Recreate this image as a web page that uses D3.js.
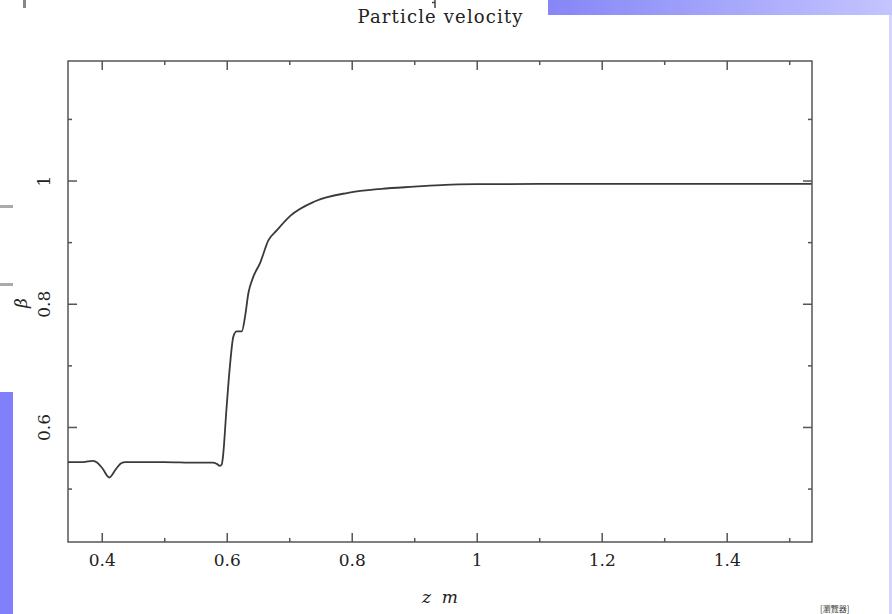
<!DOCTYPE html>
<html>
<head>
<meta charset="utf-8">
<script src="https://cdn.jsdelivr.net/npm/d3@7"></script>
<style>
  body { margin: 0; background: #fff; }
  svg { display: block; }
  .tick text { font-family: "DejaVu Serif", serif; font-size: 17px; fill: #222; }
</style>
</head>
<body>
<script>
// data
const zValues = [0.346, 0.37, 0.386, 0.393, 0.401, 0.412, 0.423, 0.431, 0.438, 0.46, 0.5, 0.55,
    0.578, 0.584, 0.589, 0.592, 0.594, 0.5995, 0.605, 0.6107, 0.616, 0.624, 0.6293, 0.6346,
    0.6426, 0.6533, 0.6666, 0.68, 0.7021, 0.7405, 0.794, 0.8474, 0.9, 0.95, 1.0, 1.1, 1.3, 1.536];
const betaValues = [0.543, 0.543, 0.545, 0.542, 0.533, 0.518, 0.532, 0.541, 0.543, 0.543, 0.543, 0.542,
    0.542, 0.540, 0.537, 0.539, 0.552, 0.628, 0.698, 0.747, 0.755, 0.755, 0.779, 0.817,
    0.844, 0.866, 0.903, 0.919, 0.943, 0.966, 0.980, 0.9865, 0.990, 0.993, 0.994, 0.9945, 0.9945, 0.9945];
const xMajorTicks = [0.4, 0.6, 0.8, 1.0, 1.2, 1.4];
const xMinorTicks = [0.5, 0.7, 0.9, 1.1, 1.3, 1.5];
const yMajorTicks = [0.6, 0.8, 1.0];
const yMinorTicks = [0.5, 0.7, 0.9, 1.1];
const title = "Particle velocity";

const width = 892;
const height = 614;
const frame = { left: 68, right: 812, top: 61, bottom: 542 };
const axisColor = "#555";

const svg = d3.select("body").append("svg")
    .attr("width", width)
    .attr("height", height);

// page decorations around the chart
const defs = svg.append("defs");
const grad = defs.append("linearGradient").attr("id", "topbar");
grad.append("stop").attr("offset", "0%").attr("stop-color", "#8686f6");
grad.append("stop").attr("offset", "100%").attr("stop-color", "#c4c4ff");

svg.append("rect").attr("x", 548).attr("y", 0).attr("width", 344).attr("height", 15)
    .attr("fill", "url(#topbar)");
svg.append("rect").attr("x", 889).attr("y", 15).attr("width", 3).attr("height", 599)
    .attr("fill", "#d4d4ff");
svg.append("rect").attr("x", 0).attr("y", 392).attr("width", 13).attr("height", 222)
    .attr("fill", "#8080fa");
svg.append("rect").attr("x", 23).attr("y", 0).attr("width", 3).attr("height", 8).attr("fill", "#888");
svg.append("rect").attr("x", 0).attr("y", 205).attr("width", 13).attr("height", 3).attr("fill", "#aaa");
svg.append("rect").attr("x", 0).attr("y", 283).attr("width", 13).attr("height", 3).attr("fill", "#aaa");
svg.append("path").attr("d", "M432,2.5 L435,2.5 M435,0 L435,8")
    .attr("stroke", "#444").attr("stroke-width", 1.5).attr("fill", "none");
svg.append("text").attr("x", 820).attr("y", 612)
    .style("font-family", "'Noto Sans CJK TC', sans-serif").style("font-size", "8px")
    .attr("fill", "#333").text("[瀏覽器]");

// scales
const x = d3.scaleLinear().domain([0.346, 1.5365]).range([frame.left, frame.right]);
const y = d3.scaleLinear().domain([0.4133, 1.194]).range([frame.bottom, frame.top]);

// frame
svg.append("rect")
    .attr("x", frame.left).attr("y", frame.top)
    .attr("width", frame.right - frame.left).attr("height", frame.bottom - frame.top)
    .attr("fill", "none").attr("stroke", axisColor).attr("stroke-width", 1.5);

function styleAxis(g) {
    g.select(".domain").remove();
    g.selectAll(".tick line").attr("stroke", axisColor).attr("stroke-width", 1.5);
}

// bottom axis
svg.append("g").attr("transform", `translate(0,${frame.bottom})`)
    .call(d3.axisBottom(x).tickValues(xMajorTicks).tickSize(-9).tickPadding(12)
        .tickFormat(d => d3.format("~g")(d)))
    .call(styleAxis);
svg.append("g").attr("transform", `translate(0,${frame.bottom})`)
    .call(d3.axisBottom(x).tickValues(xMinorTicks).tickSize(-4).tickFormat(""))
    .call(styleAxis);

// top axis
svg.append("g").attr("transform", `translate(0,${frame.top})`)
    .call(d3.axisTop(x).tickValues(xMajorTicks).tickSize(-9).tickFormat(""))
    .call(styleAxis);
svg.append("g").attr("transform", `translate(0,${frame.top})`)
    .call(d3.axisTop(x).tickValues(xMinorTicks).tickSize(-4).tickFormat(""))
    .call(styleAxis);

// left axis, labels rotated
const leftAxis = svg.append("g").attr("transform", `translate(${frame.left},0)`)
    .call(d3.axisLeft(y).tickValues(yMajorTicks).tickSize(-9)
        .tickFormat(d => d3.format("~g")(d)))
    .call(styleAxis);
leftAxis.selectAll(".tick text")
    .attr("transform", "rotate(-90)")
    .attr("x", 0).attr("y", -18).attr("dy", 0)
    .attr("text-anchor", "middle");
svg.append("g").attr("transform", `translate(${frame.left},0)`)
    .call(d3.axisLeft(y).tickValues(yMinorTicks).tickSize(-4).tickFormat(""))
    .call(styleAxis);

// right axis
svg.append("g").attr("transform", `translate(${frame.right},0)`)
    .call(d3.axisRight(y).tickValues(yMajorTicks).tickSize(-9).tickFormat(""))
    .call(styleAxis);
svg.append("g").attr("transform", `translate(${frame.right},0)`)
    .call(d3.axisRight(y).tickValues(yMinorTicks).tickSize(-4).tickFormat(""))
    .call(styleAxis);

// curve
const points = zValues.map((z, i) => [z, betaValues[i]]);
const line = d3.line()
    .x(d => x(d[0]))
    .y(d => y(d[1]))
    .curve(d3.curveMonotoneX);

svg.append("path")
    .datum(points)
    .attr("d", line)
    .attr("fill", "none")
    .attr("stroke", "#3a3a3a")
    .attr("stroke-width", 1.8)
    .attr("stroke-linejoin", "round");

// title and axis labels
svg.append("text")
    .attr("x", 440).attr("y", 23)
    .attr("text-anchor", "middle")
    .attr("textLength", 165).attr("lengthAdjust", "spacing")
    .style("font-family", "'DejaVu Serif', serif").style("font-size", "18px")
    .attr("fill", "#222")
    .text(title);

svg.append("text")
    .attr("x", 440).attr("y", 603)
    .attr("text-anchor", "middle")
    .style("font-family", "'DejaVu Serif', serif").style("font-size", "17px")
    .style("font-style", "italic")
    .attr("fill", "#222")
    .attr("xml:space", "preserve")
    .text("z  m");

svg.append("text")
    .attr("transform", "translate(27,303) rotate(-90)")
    .attr("text-anchor", "middle")
    .style("font-family", "'DejaVu Serif', serif").style("font-size", "17px")
    .style("font-style", "italic")
    .attr("fill", "#222")
    .text("β");
</script>
</body>
</html>
